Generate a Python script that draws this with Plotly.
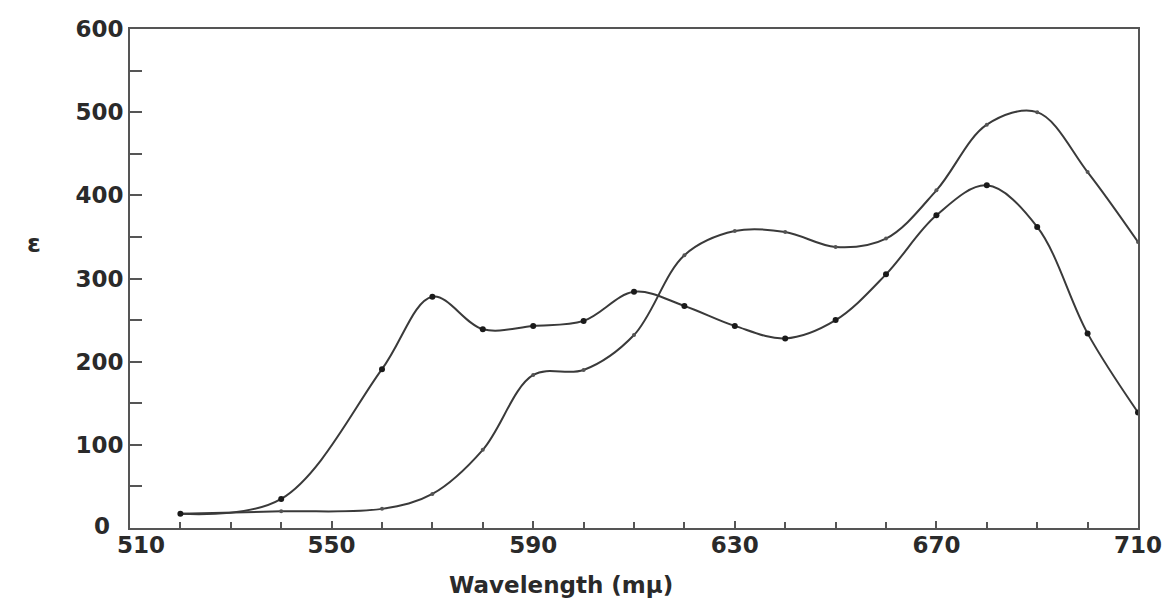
import plotly.graph_objects as go

# Curve A (filled dots, first peak near 570 m\u00b5)
wl_a = [520, 540, 560, 570, 580, 590, 600, 610, 620, 630, 640, 650, 660, 670, 680, 690, 700, 710]
eps_a = [17, 35, 191, 278, 239, 243, 249, 284, 267, 243, 228, 250, 305, 376, 412, 362, 234, 139]

# Curve B (small marks, rises later, peaks near 686 m\u00b5)
wl_b = [520, 540, 560, 570, 580, 590, 600, 610, 620, 630, 640, 650, 660, 670, 680, 690, 700, 710]
eps_b = [17, 20, 23, 41, 94, 184, 190, 232, 328, 357, 356, 338, 348, 406, 485, 500, 428, 344]

x_ticks = [510, 550, 590, 630, 670, 710]
x_labels = ["510", "550", "590", "630", "670", "710"]
y_ticks = [0, 100, 200, 300, 400, 500, 600]
y_labels = ["0", "100", "200", "300", "400", "500", "600"]

INK = "#3a3a3a"
AX = "#555555"
TXT = "#2a2a2a"
FONT = "DejaVu Sans"
TICK_SIZE = 23
tick_font = dict(family=FONT, size=TICK_SIZE, color=TXT, weight="bold")

fig = go.Figure()
fig.add_trace(go.Scatter(
    x=wl_b, y=eps_b, mode="lines+markers",
    line=dict(color=INK, width=2, shape="spline", smoothing=1.0),
    marker=dict(size=4, color="#555555", symbol="circle"),
    showlegend=False, hoverinfo="x+y",
))
fig.add_trace(go.Scatter(
    x=wl_a, y=eps_a, mode="lines+markers",
    line=dict(color=INK, width=2, shape="spline", smoothing=1.0),
    marker=dict(size=6, color="#1a1a1a", symbol="circle"),
    showlegend=False, hoverinfo="x+y",
))

axis_common = dict(
    showgrid=False, zeroline=False, showline=True, linecolor=AX,
    linewidth=2, mirror=True, ticks="inside", tickcolor=AX,
    tickwidth=2, automargin=False, tickfont=tick_font,
)

# the corner labels (0 and 510) are offset in the original, drawn separately
fig.update_xaxes(
    range=[510, 710], tickmode="array", tickvals=x_ticks,
    ticktext=[""] + x_labels[1:], ticklen=7, ticklabelstandoff=-5,
    minor=dict(dtick=10, tick0=510, ticks="inside", ticklen=6,
               tickcolor=AX, tickwidth=2, showgrid=False),
    **axis_common,
)
fig.update_yaxes(
    range=[0, 600], tickmode="array", tickvals=y_ticks,
    ticktext=[""] + y_labels[1:], ticklen=12,
    minor=dict(dtick=50, tick0=0, ticks="inside", ticklen=12,
               tickcolor=AX, tickwidth=2, showgrid=False),
    **axis_common,
)

fig.add_annotation(
    text=x_labels[0], x=x_ticks[0], xref="x", y=0, yref="paper",
    xanchor="left", yanchor="top", xshift=-15, yshift=-2, showarrow=False,
    font=tick_font,
)
fig.add_annotation(
    text=y_labels[0], x=0, xref="paper", y=y_ticks[0], yref="y",
    xanchor="right", yanchor="middle", xshift=-18, yshift=2, showarrow=False,
    font=tick_font,
)
fig.add_annotation(
    text="<b>Wavelength (m\u00b5)</b>", xref="paper", yref="paper",
    x=0.428, y=-0.115, xanchor="center", yanchor="middle", showarrow=False,
    font=dict(family=FONT, size=23, color=TXT),
)
fig.add_annotation(
    text="<b>\u03b5</b>", xref="paper", yref="paper",
    x=-0.095, y=0.571, xanchor="center", yanchor="middle", showarrow=False,
    font=dict(family=FONT, size=25, color=TXT),
)

fig.update_layout(
    width=1171, height=605,
    margin=dict(l=122, r=41, t=21, b=85, autoexpand=False),
    paper_bgcolor="white", plot_bgcolor="white",
    font=dict(family=FONT, color=TXT),
)

fig.write_html("out.html")
